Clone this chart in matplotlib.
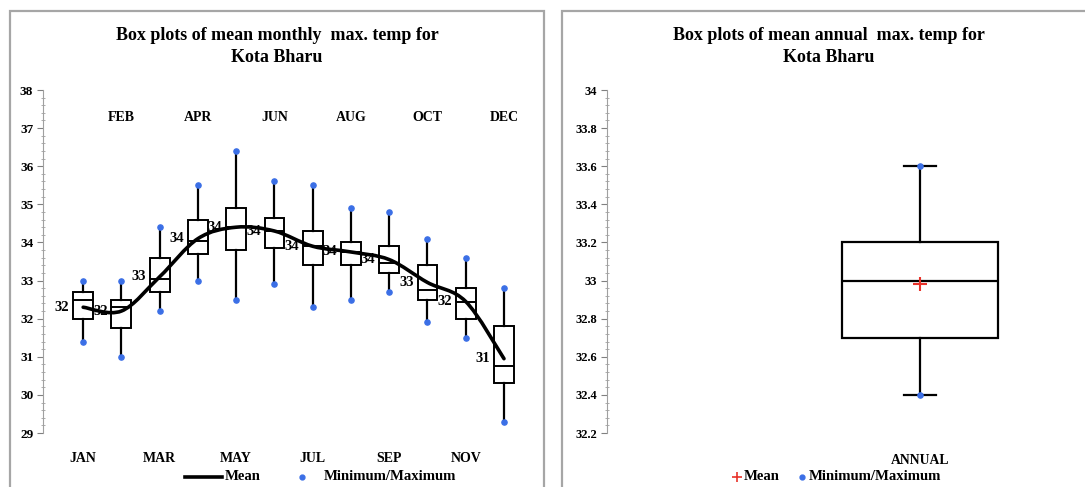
import matplotlib
matplotlib.use("Agg")
import matplotlib.pyplot as plt
from matplotlib.patches import Rectangle, PathPatch
from matplotlib.path import Path
from matplotlib.lines import Line2D
from matplotlib.ticker import MultipleLocator, FuncFormatter
import numpy as np

plt.rcParams['font.family'] = ['Liberation Serif', 'DejaVu Serif']
plt.rcParams['font.weight'] = 'bold'

# ---------------- data ----------------
months = ["JAN", "FEB", "MAR", "APR", "MAY", "JUN", "JUL", "AUG", "SEP", "OCT", "NOV", "DEC"]
m_min = [31.4, 31.0, 32.2, 33.0, 32.5, 32.9, 32.3, 32.5, 32.7, 31.9, 31.5, 29.3]
m_q1 = [32.0, 31.75, 32.7, 33.7, 33.8, 33.85, 33.4, 33.4, 33.2, 32.5, 32.0, 30.3]
m_med = [32.5, 32.3, 33.05, 34.05, 34.4, 34.3, 33.9, 33.75, 33.45, 32.75, 32.45, 30.75]
m_q3 = [32.7, 32.5, 33.6, 34.6, 34.9, 34.65, 34.3, 34.0, 33.9, 33.4, 32.8, 31.8]
m_max = [33.0, 33.0, 34.4, 35.5, 36.4, 35.6, 35.5, 34.9, 34.8, 34.1, 33.6, 32.8]
m_mean = [32.3, 32.2, 33.1, 34.1, 34.4, 34.3, 33.9, 33.75, 33.55, 32.95, 32.45, 30.95]

annual_label = "ANNUAL"
a_min, a_q1, a_med, a_q3, a_max, a_mean = 32.4, 32.7, 33.0, 33.2, 33.6, 32.98

W, H = 1085, 487
fig = plt.figure(figsize=(W / 100, H / 100), dpi=100)


def fx(x):
    return x / W


def fy(y):
    return 1 - y / H


BLUE = "#3b6fe6"
GRAY = "#a6a6a6"

# panel frames
fig.add_artist(Rectangle((fx(10), -0.1), fx(544 - 10), fy(11) + 0.1, transform=fig.transFigure,
                         fill=False, edgecolor=GRAY, lw=1.6))
fig.add_artist(Rectangle((fx(562), -0.1), fx(1200 - 562), fy(11) + 0.1, transform=fig.transFigure,
                         fill=False, edgecolor=GRAY, lw=1.6))

# ---------------- left axes ----------------
axL = fig.add_axes([fx(43), fy(433), fx(530 - 43), (433 - 90) / H])
pos = np.arange(len(months))
stats = [dict(whislo=lo, q1=a, med=m, q3=b, whishi=hi, label=lab)
         for lo, a, m, b, hi, lab in zip(m_min, m_q1, m_med, m_q3, m_max, months)]
axL.bxp(stats, positions=pos, widths=0.52, showfliers=False, showcaps=False, patch_artist=True,
        boxprops=dict(facecolor="white", edgecolor="black", lw=1.4),
        medianprops=dict(color="black", lw=1.4),
        whiskerprops=dict(color="black", lw=1.6), zorder=3)
axL.scatter(pos, m_min, s=14, color=BLUE, zorder=4)
axL.scatter(pos, m_max, s=14, color=BLUE, zorder=4)

# smooth mean line (Catmull-Rom style Bezier like Excel smoothing)
P = np.column_stack([pos, m_mean]).astype(float)
Pext = np.vstack([P[0], P, P[-1]])
verts = [tuple(P[0])]
codes = [Path.MOVETO]
for i in range(len(P) - 1):
    p0, p1, p2, p3 = Pext[i], Pext[i + 1], Pext[i + 2], Pext[i + 3]
    c1 = p1 + (p2 - p0) / 6.0
    c2 = p2 - (p3 - p1) / 6.0
    verts += [tuple(c1), tuple(c2), tuple(p2)]
    codes += [Path.CURVE4] * 3
axL.add_patch(PathPatch(Path(verts, codes), fill=False, edgecolor="black", lw=2.6, zorder=5,
                        capstyle="round"))

for i, v in enumerate(m_mean):
    axL.text(i - 0.36, v, f"{v:.0f}", ha="right", va="center", fontsize=10.5, zorder=2)

axL.set_xlim(-1.05, 11.68)
axL.set_ylim(29, 38)
axL.yaxis.set_major_locator(MultipleLocator(1))
axL.yaxis.set_minor_locator(MultipleLocator(0.2))
axL.set_xticks(pos[::2])
axL.set_xticklabels(months[::2], fontsize=10)
axL.tick_params(axis="x", length=0, pad=14)
for i in pos[1::2]:
    axL.text(i, 37.27, months[i], ha="center", va="center", fontsize=10)
axL.tick_params(axis="y", which="major", direction="out", length=4, width=0.8, color="#808080",
                labelsize=9.5, pad=3)
axL.tick_params(axis="y", which="minor", direction="inout", length=3, width=0.6, color="#a0a0a0")
for s in ["top", "right", "bottom"]:
    axL.spines[s].set_visible(False)
axL.spines["left"].set_color("#a0a0a0")
axL.spines["left"].set_linewidth(0.8)

fig.text(fx(277), fy(36), "Box plots of mean monthly  max. temp for", ha="center", va="center",
         fontsize=13)
fig.text(fx(277), fy(57), "Kota Bharu", ha="center", va="center", fontsize=13)

# left legend
fig.add_artist(Line2D([fx(185), fx(222)], [fy(477), fy(477)], color="black", lw=2.6,
                      transform=fig.transFigure))
fig.text(fx(225), fy(477), "Mean", ha="left", va="center", fontsize=10.6)
fig.add_artist(Line2D([fx(302)], [fy(477)], marker="o", ms=3.5, color=BLUE, lw=0,
                      transform=fig.transFigure))
fig.text(fx(324), fy(477), "Minimum/Maximum", ha="left", va="center", fontsize=10.6)

# ---------------- right axes ----------------
axR = fig.add_axes([fx(607), fy(433), fx(1075 - 607), (433 - 90) / H])
xc = 0.669
axR.bxp([dict(whislo=a_min, q1=a_q1, med=a_med, q3=a_q3, whishi=a_max, label=annual_label)],
        positions=[xc], widths=0.333, capwidths=[0.068], showfliers=False, showcaps=True,
        patch_artist=True,
        boxprops=dict(facecolor="white", edgecolor="black", lw=1.6),
        medianprops=dict(color="black", lw=1.6),
        whiskerprops=dict(color="black", lw=1.6),
        capprops=dict(color="black", lw=1.6), zorder=3)
axR.scatter([xc, xc], [a_min, a_max], s=14, color=BLUE, zorder=4)
axR.plot([xc], [a_mean], marker="+", ms=10, mew=1.5, color="#e8322a", lw=0, zorder=5)
axR.set_xlim(0, 1)
axR.set_ylim(32.2, 34)
axR.yaxis.set_major_locator(MultipleLocator(0.2))
axR.yaxis.set_minor_locator(MultipleLocator(0.04))
axR.yaxis.set_major_formatter(FuncFormatter(lambda v, p: f"{round(v, 1):g}"))
axR.set_xticks([xc])
axR.set_xticklabels([annual_label], fontsize=9.8)
axR.tick_params(axis="x", length=0, pad=15)
axR.tick_params(axis="y", which="major", direction="out", length=4, width=0.8, color="#808080",
                labelsize=9, pad=3)
axR.tick_params(axis="y", which="minor", direction="inout", length=3, width=0.6, color="#a0a0a0")
for s in ["top", "right", "bottom"]:
    axR.spines[s].set_visible(False)
axR.spines["left"].set_color("#a0a0a0")
axR.spines["left"].set_linewidth(0.8)

fig.text(fx(829), fy(36), "Box plots of mean annual  max. temp for", ha="center", va="center",
         fontsize=13)
fig.text(fx(829), fy(57), "Kota Bharu", ha="center", va="center", fontsize=13)

# right legend
fig.add_artist(Line2D([fx(737)], [fy(477)], marker="+", ms=7, mew=1.2, color="#e8322a", lw=0,
                      transform=fig.transFigure))
fig.text(fx(744), fy(477), "Mean", ha="left", va="center", fontsize=10.6)
fig.add_artist(Line2D([fx(802)], [fy(477)], marker="o", ms=3.5, color=BLUE, lw=0,
                      transform=fig.transFigure))
fig.text(fx(809), fy(477), "Minimum/Maximum", ha="left", va="center", fontsize=10.6)

fig.savefig("out.png", dpi=100)
